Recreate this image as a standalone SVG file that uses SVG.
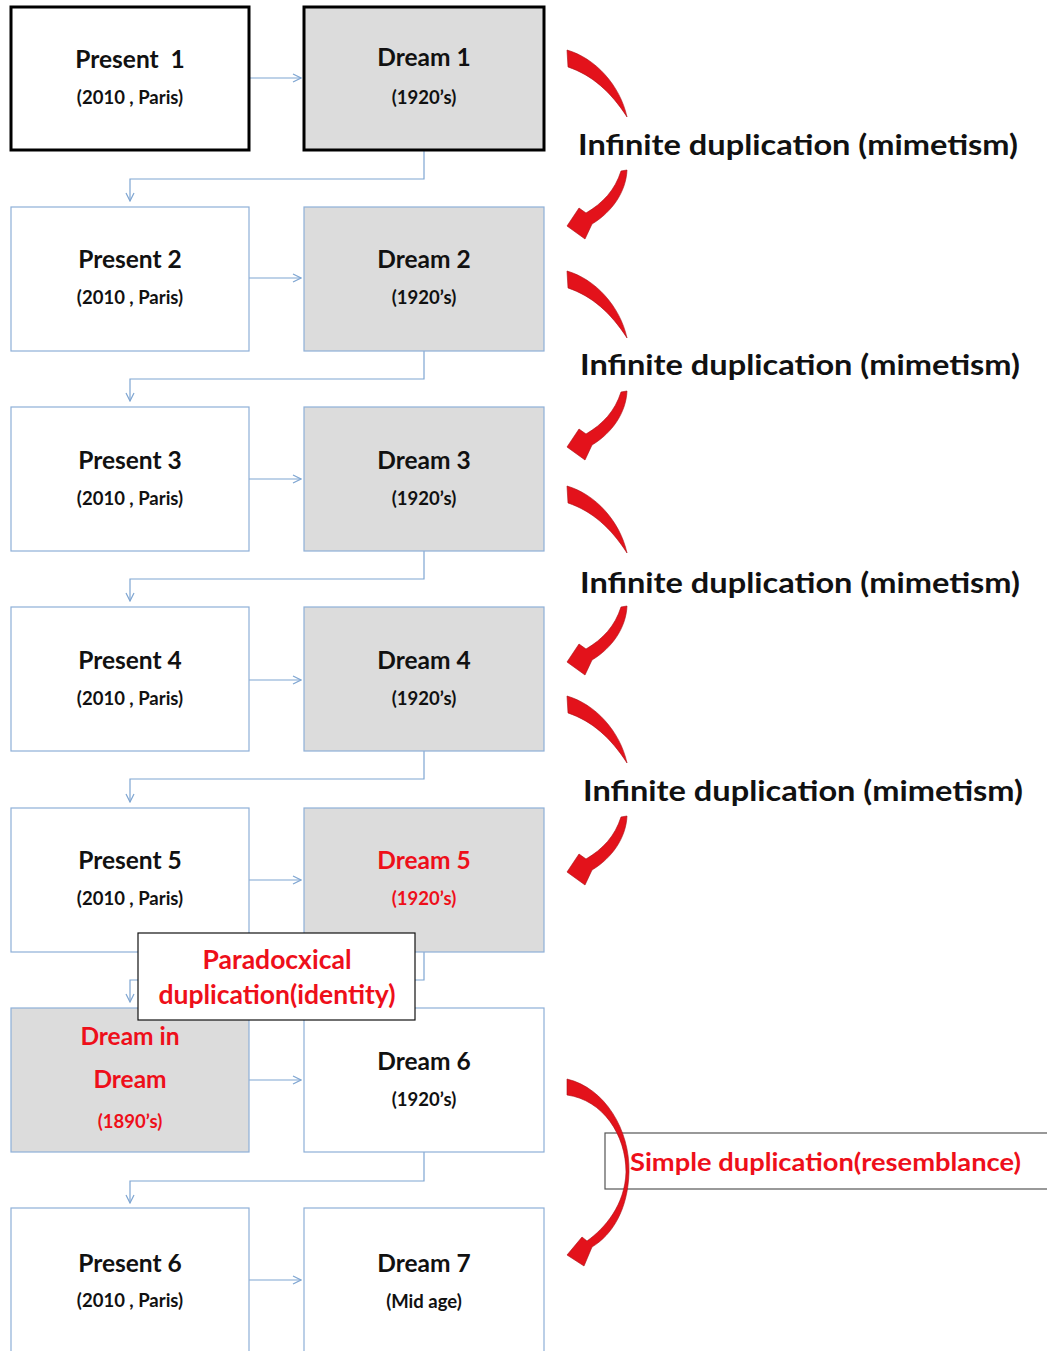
<svg xmlns="http://www.w3.org/2000/svg" width="1047" height="1351" viewBox="0 0 1047 1351">
<style>
.box{fill:#ffffff;stroke:#8eb0d8;stroke-width:1.2}
.grey{fill:#dcdcdc;stroke:#8eb0d8;stroke-width:1.2}
.thick{stroke:#000;stroke-width:3}
.t{font-family:Lato,"Liberation Sans",sans-serif;font-weight:bold;text-anchor:middle;fill:#111;white-space:pre}
.main{font-size:24.5px}
.sub{font-size:18.5px}
.red{fill:#ee0f1a}
.big{font-family:Lato,"Liberation Sans",sans-serif;font-weight:bold;font-size:29px;fill:#111}
.conn{fill:none;stroke:#7fa6d2;stroke-width:1.2}
.arr{fill:#e3121b;stroke:#a80e14;stroke-width:0.6}
</style>
<defs>
<marker id="ah" markerWidth="10" markerHeight="10" refX="9" refY="5" orient="auto" markerUnits="userSpaceOnUse">
<path d="M1,1 L9,5 L1,9" fill="none" stroke="#7fa6d2" stroke-width="1.2"/>
</marker>
<g id="curl">
<path class="arr" d="M567,50 C595,58 620,85 627,117 C611,92 592,75 568,67 Z"/>
<path class="arr" d="M627,170 C626,192 612,212 592,224 L585,239 L567,226 L579,208 L586,213 C603,203 615,190 621,171 Z"/>
</g>
</defs>
<rect width="1047" height="1351" fill="#fff"/>
<g id="connectors">
<path class="conn" marker-end="url(#ah)" d="M249,78 H301"/>
<path class="conn" marker-end="url(#ah)" d="M249,278 H301"/>
<path class="conn" marker-end="url(#ah)" d="M249,479 H301"/>
<path class="conn" marker-end="url(#ah)" d="M249,680 H301"/>
<path class="conn" marker-end="url(#ah)" d="M249,880 H301"/>
<path class="conn" marker-end="url(#ah)" d="M249,1080 H301"/>
<path class="conn" marker-end="url(#ah)" d="M249,1280 H301"/>
<path class="conn" marker-end="url(#ah)" d="M424,151 V179 H130 V201"/>
<path class="conn" marker-end="url(#ah)" d="M424,351 V379 H130 V401"/>
<path class="conn" marker-end="url(#ah)" d="M424,551 V579 H130 V601"/>
<path class="conn" marker-end="url(#ah)" d="M424,751 V779 H130 V802"/>
<path class="conn" marker-end="url(#ah)" d="M424,952 V980 H130 V1002"/>
<path class="conn" marker-end="url(#ah)" d="M424,1152 V1181 H130 V1203"/>
</g>
<g id="present1"><rect class="box thick" x="11" y="7" width="238" height="143"/><text class="t main" x="130" y="68" xml:space="preserve">Present  1</text><text class="t sub" x="130" y="104">(2010 , Paris)</text></g>
<g id="dream1"><rect class="grey thick" x="304" y="7" width="240" height="143"/><text class="t main" x="424" y="66">Dream 1</text><text class="t sub" x="424" y="104">(1920’s)</text></g>
<g id="present2"><rect class="box" x="11" y="207" width="238" height="144"/><text class="t main" x="130" y="268">Present 2</text><text class="t sub" x="130" y="304">(2010 , Paris)</text></g>
<g id="dream2"><rect class="grey" x="304" y="207" width="240" height="144"/><text class="t main" x="424" y="268">Dream 2</text><text class="t sub" x="424" y="304">(1920’s)</text></g>
<g id="present3"><rect class="box" x="11" y="407" width="238" height="144"/><text class="t main" x="130" y="469">Present 3</text><text class="t sub" x="130" y="505">(2010 , Paris)</text></g>
<g id="dream3"><rect class="grey" x="304" y="407" width="240" height="144"/><text class="t main" x="424" y="469">Dream 3</text><text class="t sub" x="424" y="505">(1920’s)</text></g>
<g id="present4"><rect class="box" x="11" y="607" width="238" height="144"/><text class="t main" x="130" y="669">Present 4</text><text class="t sub" x="130" y="705">(2010 , Paris)</text></g>
<g id="dream4"><rect class="grey" x="304" y="607" width="240" height="144"/><text class="t main" x="424" y="669">Dream 4</text><text class="t sub" x="424" y="705">(1920’s)</text></g>
<g id="present5"><rect class="box" x="11" y="808" width="238" height="144"/><text class="t main" x="130" y="869">Present 5</text><text class="t sub" x="130" y="905">(2010 , Paris)</text></g>
<g id="dream5"><rect class="grey" x="304" y="808" width="240" height="144"/><text class="t main red" x="424" y="869">Dream 5</text><text class="t sub red" x="424" y="905">(1920’s)</text></g>
<g id="dreamindream"><rect class="grey" x="11" y="1008" width="238" height="144"/><text class="t main red" x="130" y="1045">Dream in</text><text class="t main red" x="130" y="1088">Dream</text><text class="t sub red" x="130" y="1128">(1890’s)</text></g>
<g id="dream6"><rect class="box" x="304" y="1008" width="240" height="144"/><text class="t main" x="424" y="1070">Dream 6</text><text class="t sub" x="424" y="1106">(1920’s)</text></g>
<g id="present6"><rect class="box" x="11" y="1208" width="238" height="150"/><text class="t main" x="130" y="1272">Present 6</text><text class="t sub" x="130" y="1307">(2010 , Paris)</text></g>
<g id="dream7"><rect class="box" x="304" y="1208" width="240" height="150"/><text class="t main" x="424" y="1272">Dream 7</text><text class="t sub" x="424" y="1308">(Mid age)</text></g>
<g id="paradox"><rect x="138" y="933" width="277" height="87" fill="#fff" stroke="#111" stroke-width="1.2"/><text class="t red" style="font-size:26.5px" x="277" y="969">Paradocxical</text><text class="t red" style="font-size:26.5px" x="277" y="1004">duplication(identity)</text></g>
<g id="infinite1"><use href="#curl"/><text class="big" x="578" y="155" textLength="440" lengthAdjust="spacingAndGlyphs">Infinite duplication (mimetism)</text></g>
<g id="infinite2"><use href="#curl" transform="translate(0,221)"/><text class="big" x="580" y="375" textLength="440" lengthAdjust="spacingAndGlyphs">Infinite duplication (mimetism)</text></g>
<g id="infinite3"><use href="#curl" transform="translate(0,436)"/><text class="big" x="580" y="593" textLength="440" lengthAdjust="spacingAndGlyphs">Infinite duplication (mimetism)</text></g>
<g id="infinite4"><use href="#curl" transform="translate(0,646)"/><text class="big" x="583" y="801" textLength="440" lengthAdjust="spacingAndGlyphs">Infinite duplication (mimetism)</text></g>
<g id="simple">
<rect x="605" y="1133" width="445" height="56" fill="#fff" stroke="#555" stroke-width="1.2"/>
<path class="arr" d="M567,1079 C605,1088 630,1130 629,1172 C628,1210 612,1235 592,1247 L584,1266 L567,1255 L582,1237 L587,1241 C605,1228 625,1205 626,1172 C626,1135 603,1100 567,1095 Z"/>
<text class="t red" style="font-size:25px;text-anchor:start" x="630" y="1171" textLength="391" lengthAdjust="spacingAndGlyphs">Simple duplication(resemblance)</text>
</g>
</svg>
